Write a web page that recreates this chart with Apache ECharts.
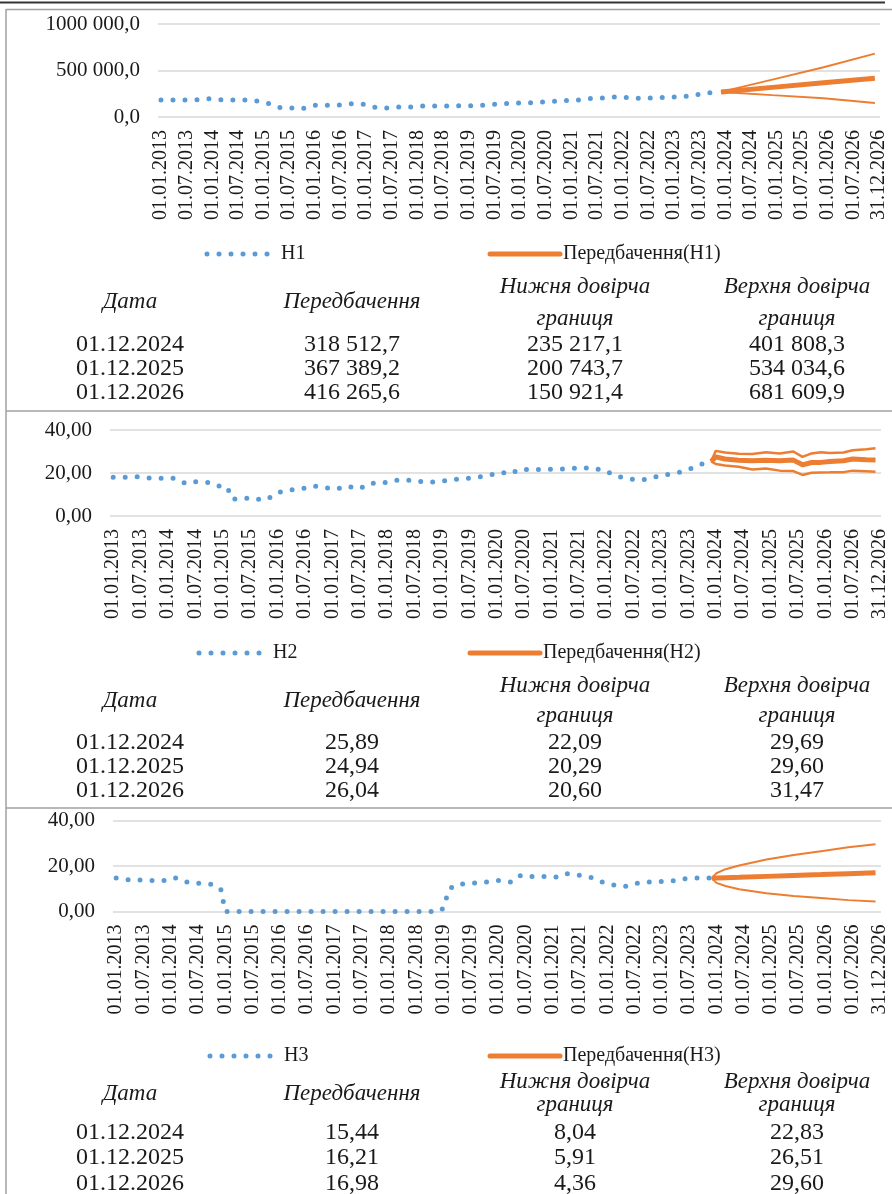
<!DOCTYPE html>
<html><head><meta charset="utf-8">
<script src="https://cdn.jsdelivr.net/npm/echarts@6/dist/echarts.min.js"></script>
<style>html,body{margin:0;padding:0;background:#fff}#c{width:892px;height:1194px}</style>
</head><body><div id="c"></div>
<script>
// ---------------- DATA ----------------
const xTickLabels = ['01.01.2013','01.07.2013','01.01.2014','01.07.2014','01.01.2015','01.07.2015','01.01.2016','01.07.2016','01.01.2017','01.07.2017','01.01.2018','01.07.2018','01.01.2019','01.07.2019','01.01.2020','01.07.2020','01.01.2021','01.07.2021','01.01.2022','01.07.2022','01.01.2023','01.07.2023','01.01.2024','01.07.2024','01.01.2025','01.07.2025','01.01.2026','01.07.2026','31.12.2026'];
const yTickLabels1 = ['0,0','500 000,0','1000 000,0'];
const yTickLabels23 = ['0,00','20,00','40,00'];

const seriesNames = ['Н1','Н2','Н3'];
const forecastNames = ['Передбачення(Н1)','Передбачення(Н2)','Передбачення(Н3)'];

// H1 history
const h1Dates = ['2013-01','2013-04','2013-07','2013-09','2013-12','2014-03','2014-06','2014-09','2014-12','2015-02','2015-05','2015-07','2015-10','2016-01','2016-03','2016-06','2016-09','2016-12','2017-03','2017-05','2017-08','2017-11','2018-02','2018-05','2018-08','2018-11','2019-01','2019-04','2019-07','2019-10','2020-01','2020-04','2020-07','2020-10','2021-01','2021-03','2021-06','2021-09','2021-12','2022-02','2022-05','2022-08','2022-11','2023-02','2023-05','2023-08','2023-12'];
const h1Values = [183000,183000,183000,185000,197000,185000,183000,183000,169000,147000,100000,100000,89000,126000,126000,126000,143000,140000,104000,93000,107000,107000,118000,118000,118000,120000,120000,126000,136000,147000,150000,154000,165000,170000,183000,183000,201000,205000,218000,210000,201000,205000,210000,218000,226000,255000,270000];
// H1 forecast
const f1Dates = ['2023-12','2024-12','2025-12','2026-12'];
const f1Forecast = [270000,318512.7,367389.2,416265.6];
const f1Lower = [270000,235217.1,200743.7,150921.4];
const f1Upper = [270000,401808.3,534034.6,681609.9];

// H2 history
const h2Dates = ['2013-01','2013-04','2013-06','2013-09','2013-12','2014-02','2014-05','2014-07','2014-10','2014-12','2015-02','2015-03','2015-05','2015-07','2015-10','2015-12','2016-01','2016-03','2016-06','2016-09','2016-11','2017-02','2017-04','2017-07','2017-09','2017-12','2018-02','2018-05','2018-07','2018-10','2019-01','2019-03','2019-06','2019-08','2019-11','2020-02','2020-04','2020-06','2020-09','2020-12','2021-03','2021-05','2021-08','2021-10','2021-12','2022-03','2022-05','2022-08','2022-10','2023-01','2023-04','2023-06','2023-09','2023-11','2023-12'];
const h2Values = [18.0,18.0,18.3,17.7,17.5,17.7,15.0,15.9,15.6,14.0,13.4,7.9,7.8,8.5,7.3,9.2,10.8,12.0,12.5,14.0,13.3,12.5,13.9,12.7,15.2,15.2,16.5,16.9,16.3,15.7,16.2,16.9,17.5,17.7,18.8,20.3,19.5,21.8,21.5,21.8,21.8,22.0,22.6,21.7,21.7,18.9,17.5,16.8,17.1,18.9,19.8,20.8,23.2,25.2,25.4];
// H2 forecast
const f2Dates = ['2023-12','2024-01','2024-03','2024-06','2024-09','2024-12','2025-03','2025-06','2025-08','2025-10','2025-12','2026-02','2026-05','2026-07','2026-10','2026-12'];
const f2Forecast = [25.4,27.5,26.5,25.9,25.7,25.89,25.7,26.0,23.8,24.9,24.94,25.4,25.7,26.5,26.2,26.04];
const f2Lower = [25.4,24.2,23.5,22.9,21.6,22.09,21.1,20.9,19.1,20.1,20.29,20.3,20.4,21.1,20.8,20.60];
const f2Upper = [25.4,30.3,29.5,29.0,28.8,29.69,29.1,30.0,27.5,29.1,29.60,29.3,29.5,30.6,31.0,31.47];

// H3 history
const h3Dates = ['2013-01','2013-04','2013-06','2013-09','2013-12','2014-02','2014-05','2014-07','2014-10','2014-12','2015-01','2016-01','2017-01','2018-01','2018-12','2019-01','2019-02','2019-03','2019-05','2019-08','2019-10','2020-01','2020-04','2020-06','2020-08','2020-11','2021-02','2021-04','2021-07','2021-10','2021-12','2022-03','2022-05','2022-08','2022-10','2023-01','2023-04','2023-06','2023-09','2023-12'];
const h3Values = [14.7,13.9,13.9,13.6,13.6,14.8,12.6,12.4,12.0,9.9,0,0,0,0,0,1.5,8.5,11.2,12.1,12.6,12.9,13.6,12.9,15.9,15.4,15.4,15.1,16.6,15.9,14.7,12.9,11.4,11.1,12.6,12.9,13.2,13.6,14.4,14.7,14.7];
// H3 forecast
const f3Dates = ['2023-12','2024-01','2024-03','2024-06','2024-12','2025-06','2025-12','2026-06','2026-12'];
const f3Forecast = [14.67,14.73,14.86,15.05,15.44,15.83,16.21,16.60,16.98];
const f3Lower = [14.67,12.6,11.2,9.8,8.04,6.8,5.91,5.0,4.36];
const f3Upper = [14.67,16.8,18.6,20.2,22.83,24.8,26.51,28.2,29.60];

// Tables
const tableHeaders = ['Дата','Передбачення',['Нижня довірча','границя'],['Верхня довірча','границя']];
const tableDates = ['01.12.2024','01.12.2025','01.12.2026'];

// ---------------- HELPERS ----------------
function dmyToT(s){const [d,m,y]=s.split('.').map(Number);const dim=new Date(y,m,0).getDate();return (y-2013)*12+(m-1)+(d-1)/dim;}
function ymToT(s){const [y,m]=s.split('-').map(Number);return (y-2013)*12+(m-1);}
const tickPos = xTickLabels.map(dmyToT);
function pairs(dates,vals){return dates.map((d,i)=>[ymToT(d),vals[i]]);}
function fmt(v,dec){const s=v.toFixed(dec).split('.');const i=s[0].replace(/\B(?=(\d{3})+(?!\d))/g,' ');return i+','+s[1];}

const BLUE='#5B9BD5', ORANGE='#ED7D31', FONT='"Liberation Serif","Times New Roman",serif', TXT='#1a1a1a';

const panels = [
  {grid:{left:158,top:24,width:722,height:93}, max:1000000, interval:500000, yl:yTickLabels1,
   hist:pairs(h1Dates,h1Values), f:pairs(f1Dates,f1Forecast), lo:pairs(f1Dates,f1Lower), hi:pairs(f1Dates,f1Upper),
   tf:f1Forecast.slice(1), tl:f1Lower.slice(1), tu:f1Upper.slice(1), dec:1, bw:2,
   leg:{y:254,l1:207,l2:490}, tab:{h1:287,h2:319,hs:302,rows:[345,369,393]}},
  {grid:{left:110,top:430,width:771,height:86}, max:40, interval:20, yl:yTickLabels23,
   hist:pairs(h2Dates,h2Values), f:pairs(f2Dates,f2Forecast), lo:pairs(f2Dates,f2Lower), hi:pairs(f2Dates,f2Upper),
   tf:[f2Forecast[5],f2Forecast[10],f2Forecast[15]], tl:[f2Lower[5],f2Lower[10],f2Lower[15]], tu:[f2Upper[5],f2Upper[10],f2Upper[15]], dec:2, bw:2.5,
   leg:{y:653,l1:199,l2:470}, tab:{h1:686,h2:716,hs:701,rows:[743,767,791]}},
  {grid:{left:113,top:820.5,width:768,height:91}, max:40, interval:20, yl:yTickLabels23,
   hist:pairs(h3Dates,h3Values), f:pairs(f3Dates,f3Forecast), lo:pairs(f3Dates,f3Lower), hi:pairs(f3Dates,f3Upper),
   tf:[f3Forecast[4],f3Forecast[6],f3Forecast[8]], tl:[f3Lower[4],f3Lower[6],f3Lower[8]], tu:[f3Upper[4],f3Upper[6],f3Upper[8]], dec:2, bw:2,
   leg:{y:1056,l1:210,l2:490}, tab:{h1:1082,h2:1105,hs:1094,rows:[1133,1158,1184]}}
];

const grids=[],xAxes=[],yAxes=[],series=[],gfx=[];
const colX=[130,352,575,797];

panels.forEach((p,i)=>{
  grids.push(p.grid);
  xAxes.push({type:'value',gridIndex:i,min:-0.7,max:168.2,
    axisLine:{show:false},axisTick:{show:false},splitLine:{show:false},
    axisLabel:{customValues:tickPos,rotate:90,margin:13,fontSize:20,fontFamily:FONT,color:TXT,
      formatter:v=>{const k=tickPos.findIndex(t=>Math.abs(t-v)<0.01);return k>=0?xTickLabels[k]:'';}}});
  yAxes.push({type:'value',gridIndex:i,min:0,max:p.max,interval:p.interval,
    axisLine:{show:false},axisTick:{show:false},
    splitLine:{lineStyle:{color:'#d9d9d9',width:1.5}},
    axisLabel:{margin:18,fontSize:21,fontFamily:FONT,color:TXT,formatter:v=>p.yl[Math.round(v/p.interval)]}});
  series.push({type:'line',name:seriesNames[i],xAxisIndex:i,yAxisIndex:i,data:p.hist,symbol:'none',
    lineStyle:{color:BLUE,width:5,type:[0,12],cap:'round'},itemStyle:{color:BLUE},animation:false,silent:true});
  series.push({type:'line',name:forecastNames[i],xAxisIndex:i,yAxisIndex:i,data:p.f,symbol:'none',
    lineStyle:{color:ORANGE,width:5},itemStyle:{color:ORANGE},animation:false,silent:true,z:3});
  series.push({type:'line',name:'lo'+i,xAxisIndex:i,yAxisIndex:i,data:p.lo,symbol:'none',
    lineStyle:{color:ORANGE,width:p.bw},itemStyle:{color:ORANGE},animation:false,silent:true});
  series.push({type:'line',name:'hi'+i,xAxisIndex:i,yAxisIndex:i,data:p.hi,symbol:'none',
    lineStyle:{color:ORANGE,width:p.bw},itemStyle:{color:ORANGE},animation:false,silent:true});
  // legend (drawn as graphics)
  const ly=p.leg.y;
  gfx.push({type:'line',shape:{x1:p.leg.l1,y1:ly,x2:p.leg.l1+62,y2:ly},style:{stroke:BLUE,lineWidth:5,lineDash:[0,12],lineCap:'round'},silent:true});
  gfx.push({type:'text',x:p.leg.l1+74,y:ly,style:{text:seriesNames[i],fontSize:20,fontFamily:FONT,fill:TXT,align:'left',verticalAlign:'middle'}});
  gfx.push({type:'line',shape:{x1:p.leg.l2,y1:ly,x2:p.leg.l2+70,y2:ly},style:{stroke:ORANGE,lineWidth:5,lineCap:'round'},silent:true});
  gfx.push({type:'text',x:p.leg.l2+73,y:ly,style:{text:forecastNames[i],fontSize:20,fontFamily:FONT,fill:TXT,align:'left',verticalAlign:'middle'}});
  // table
  const hs={fontSize:23,fontFamily:FONT,fontStyle:'italic',fill:TXT,align:'center',verticalAlign:'middle'};
  tableHeaders.forEach((h,c)=>{
    if(Array.isArray(h)){
      gfx.push({type:'text',x:colX[c],y:p.tab.h1,style:Object.assign({text:h[0]},hs)});
      gfx.push({type:'text',x:colX[c],y:p.tab.h2,style:Object.assign({text:h[1]},hs)});
    } else gfx.push({type:'text',x:colX[c],y:p.tab.hs,style:Object.assign({text:h},hs)});
  });
  const vs={fontSize:24,fontFamily:FONT,fill:TXT,align:'center',verticalAlign:'middle'};
  tableDates.forEach((d,r)=>{
    const y=p.tab.rows[r];
    [d,fmt(p.tf[r],p.dec),fmt(p.tl[r],p.dec),fmt(p.tu[r],p.dec)].forEach((t,c)=>{
      gfx.push({type:'text',x:colX[c],y:y,style:Object.assign({text:t},vs)});
    });
  });
});

// frame lines
const frame=[
  {x1:0,y1:2.5,x2:885,y2:2.5,c:'#333',w:2},
  {x1:6,y1:9.5,x2:892,y2:9.5,c:'#a0a0a0',w:1.5},
  {x1:6,y1:9,x2:6,y2:1194,c:'#a0a0a0',w:1.5},
  {x1:6,y1:411,x2:892,y2:411,c:'#a0a0a0',w:1.5},
  {x1:6,y1:808,x2:892,y2:808,c:'#a0a0a0',w:1.5}
];
frame.forEach(f=>gfx.push({type:'line',shape:{x1:f.x1,y1:f.y1,x2:f.x2,y2:f.y2},style:{stroke:f.c,lineWidth:f.w},silent:true}));

const chart=echarts.init(document.getElementById('c'),null,{renderer:'canvas'});
chart.setOption({backgroundColor:'#fff',animation:false,grid:grids,xAxis:xAxes,yAxis:yAxes,series:series,graphic:{elements:gfx}});
</script></body></html>
